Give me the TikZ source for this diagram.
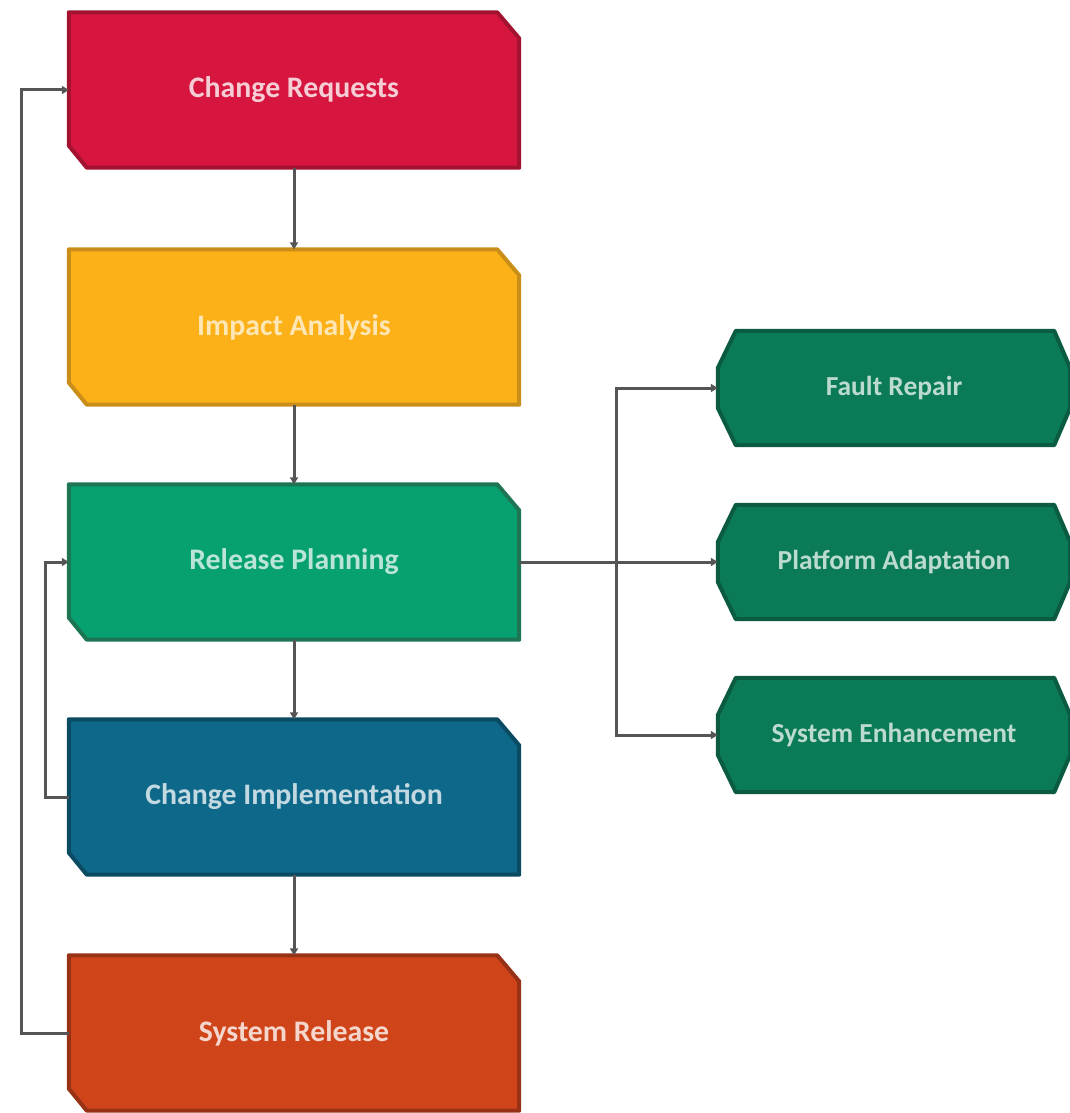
\documentclass[tikz,border=0pt]{standalone}
\usepackage{fontspec}
\setmainfont{Carlito}
\usetikzlibrary{arrows.meta,backgrounds}
\definecolor{crfill}{HTML}{D6163F}\definecolor{crline}{HTML}{A3132F}
\definecolor{iafill}{HTML}{FBB117}\definecolor{ialine}{HTML}{C98E1A}
\definecolor{rpfill}{HTML}{06A071}\definecolor{rpline}{HTML}{1E7553}
\definecolor{cifill}{HTML}{0E688A}\definecolor{ciline}{HTML}{0B4B62}
\definecolor{srfill}{HTML}{CF4519}\definecolor{srline}{HTML}{973217}
\definecolor{hxfill}{HTML}{0B7A57}\definecolor{hxline}{HTML}{0A5B41}
\definecolor{conn}{HTML}{555555}
\tikzset{
  stagebox/.style={rectangle, minimum width=450pt, minimum height=155pt, inner sep=0pt,
    font=\bfseries\fontsize{29.8}{32}\selectfont},
  hexbox/.style={rectangle, minimum width=352pt, minimum height=114pt, inner sep=0pt,
    text=white!72!hxfill, font=\bfseries\fontsize{27.5}{30}\selectfont},
  shapeline/.style={line width=4pt, line join=round},
  link/.style={draw=conn, line width=3pt, -{Triangle[length=7pt,width=8pt]}}
}
\newcommand{\stageshape}[3]{%
  \path[shapeline, fill=#2, draw=#3] ([xshift=-22pt]#1.north east) -- (#1.north west)
    -- ([yshift=22pt]#1.south west) -- ([xshift=18pt]#1.south west) -- (#1.south east)
    -- ([yshift=-26pt]#1.north east) -- cycle;}
\newcommand{\hexshape}[1]{%
  \path[shapeline, fill=hxfill, draw=hxline] ([xshift=18pt]#1.north west) -- ([xshift=-16pt]#1.north east)
    -- ([yshift=20pt]#1.east) -- ([yshift=-20pt]#1.east) -- ([xshift=-16pt]#1.south east)
    -- ([xshift=18pt]#1.south west) -- ([yshift=-20pt]#1.west) -- ([yshift=20pt]#1.west) -- cycle;}
\begin{document}
\begin{tikzpicture}[x=1pt,y=-1pt]
\useasboundingbox (0,0) rectangle (1070,1113);
\node[stagebox, text=white!78!crfill] (cr) at (294,90) {Change Requests};
\node[stagebox, text=white!68!iafill] (ia) at (294,327) {Impact Analysis};
\node[stagebox, text=white!72!rpfill] (rp) at (294,562) {Release Planning};
\node[stagebox, text=white!75!cifill] (ci) at (294,797) {Change Implementation};
\node[stagebox, text=white!78!srfill] (sr) at (294,1033) {System Release};
\node[hexbox] (fr) at (894,388) {Fault Repair};
\node[hexbox] (pa) at (894,562) {Platform Adaptation};
\node[hexbox] (se) at (894,735) {System Enhancement};
\begin{scope}[on background layer]
\stageshape{cr}{crfill}{crline}
\stageshape{ia}{iafill}{ialine}
\stageshape{rp}{rpfill}{rpline}
\stageshape{ci}{cifill}{ciline}
\stageshape{sr}{srfill}{srline}
\hexshape{fr}
\hexshape{pa}
\hexshape{se}
\end{scope}
\coordinate (outer) at (21,1033);
\coordinate (inner) at (45,797);
\coordinate (bus) at (616,562);
\draw[link] (cr) -- (ia);
\draw[link] (ia) -- (rp);
\draw[link] (rp) -- (ci);
\draw[link] (ci) -- (sr);
\draw[link] (sr.west) -- (outer) |- (cr.west);
\draw[link] (ci.west) -- (inner) |- (rp.west);
\draw[link] (rp.east) -- (pa.west);
\draw[link] (bus) |- (fr.west);
\draw[link] (bus) |- (se.west);
\end{tikzpicture}
\end{document}
